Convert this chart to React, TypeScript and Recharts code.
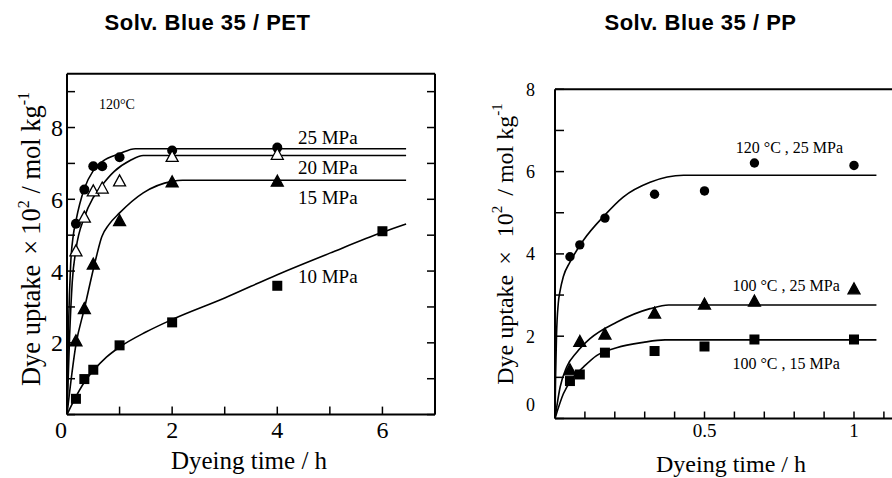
import React from 'react';
import { ComposedChart, Line, Scatter, XAxis, YAxis, ReferenceDot } from 'recharts';

const SERIF = '"Liberation Serif", "Times New Roman", serif';
const SANS = '"Liberation Sans", Arial, sans-serif';

// ---------- PET (left) ----------
const PET_TIMES = [0.17, 0.33, 0.5, 0.67, 1, 2, 4];
const PET_25 = [5.32, 6.27, 6.92, 6.92, 7.17, 7.36, 7.44];
const PET_20 = [4.55, 5.49, 6.22, 6.3, 6.5, 7.18, 7.24];
const PET_15_TIMES = [0.17, 0.33, 0.5, 1, 2, 4];
const PET_15 = [2.04, 2.94, 4.18, 5.39, 6.47, 6.49];
const PET_10_TIMES = [0.17, 0.33, 0.5, 1, 2, 4, 6];
const PET_10 = [0.44, 0.99, 1.25, 1.93, 2.57, 3.59, 5.11];

// fitted curves
const FIT25_T = [0, 0.03, 0.07, 0.12, 0.17, 0.33, 0.5, 0.67, 1, 1.3, 6.45];
const FIT25_V = [0, 2.5, 4.2, 5.0, 5.4, 6.3, 6.8, 7.05, 7.27, 7.41, 7.41];
const FIT20_T = [0, 0.05, 0.1, 0.17, 0.33, 0.5, 0.67, 0.9, 1.2, 1.45, 6.45];
const FIT20_V = [0, 2.2, 3.7, 4.6, 5.5, 6.05, 6.4, 6.78, 7.08, 7.22, 7.22];
const FIT15_T = [0, 0.17, 0.33, 0.55, 0.66, 0.8, 1.0, 1.45, 2.0, 2.2, 6.45];
const FIT15_V = [0, 1.95, 2.95, 4.35, 4.95, 5.3, 5.62, 6.18, 6.5, 6.53, 6.53];
const FIT10_T = [0, 0.17, 0.33, 0.5, 0.75, 1, 1.5, 2, 3, 4, 5, 6, 6.45];
const FIT10_V = [0, 0.5, 0.9, 1.22, 1.6, 1.88, 2.3, 2.65, 3.25, 3.9, 4.5, 5.08, 5.31];

const PET_X_TICKS = [0, 1, 2, 3, 4, 5, 6, 7];
const PET_Y_TICKS = [0, 1, 2, 3, 4, 5, 6, 7, 8, 9];

// ---------- PP (right) ----------
const PP_TIMES = [0.05, 0.083, 0.167, 0.333, 0.5, 0.667, 1];
const PP_120_25 = [3.93, 4.22, 4.87, 5.45, 5.53, 6.21, 6.15];
const PP_100_25 = [1.17, 1.86, 2.04, 2.55, 2.77, 2.84, 3.14];
const PP_100_15 = [0.91, 1.07, 1.6, 1.64, 1.75, 1.92, 1.92];

const FITA_T = [0, 0.002, 0.005, 0.011, 0.017, 0.028, 0.05, 0.095, 0.165, 0.228, 0.318, 0.43, 1.075];
const FITA_V = [0, 1.0, 2.0, 2.8, 3.1, 3.45, 3.8, 4.33, 4.93, 5.38, 5.74, 5.91, 5.91];
const FITB_T = [0, 0.017, 0.039, 0.073, 0.117, 0.206, 0.318, 0.38, 1.075];
const FITB_V = [0, 0.76, 1.25, 1.61, 1.94, 2.34, 2.67, 2.76, 2.76];
const FITC_T = [0, 0.028, 0.061, 0.095, 0.139, 0.206, 0.295, 0.368, 1.075];
const FITC_V = [0, 0.6, 1.0, 1.25, 1.53, 1.72, 1.85, 1.91, 1.91];

const PP_X_TICKS = [0, 0.1, 0.2, 0.3, 0.4, 0.5, 0.6, 0.7, 0.8, 0.9, 1, 1.1, 1.2];
const PP_Y_TICKS = [0, 1, 2, 3, 4, 5, 6, 7, 8];

const zip = (xs: number[], ys: number[]) => xs.map((x, i) => ({ x, y: ys[i] }));

// ---------- markers ----------
const FilledCircle = (p: any) => <circle cx={p.cx} cy={p.cy} r={5} fill="#000" />;
const FilledSquare = (p: any) => <rect x={p.cx - 5} y={p.cy - 5} width={10} height={10} fill="#000" />;
const SmallCircle = (p: any) => <circle cx={p.cx} cy={p.cy} r={4.7} fill="#000" />;
const makeTri = (filled: boolean) => (p: any) => (
  <polygon
    points={`${p.cx},${p.cy - 6.5} ${p.cx - 6},${p.cy + 4.5} ${p.cx + 6},${p.cy + 4.5}`}
    fill={filled ? '#000' : '#fff'}
    stroke="#000"
    strokeWidth={1.3}
  />
);

const note = (text: string, size: number) => (props: any) => {
  const vb = props.viewBox || {};
  const cx = vb.x + (vb.width || 0) / 2;
  const cy = vb.y + (vb.height || 0) / 2;
  return (
    <text x={cx} y={cy} dy="0.35em" textAnchor="middle" fontFamily={SERIF} fontSize={size} fill="#000">
      {text}
    </text>
  );
};

const axisLine = { stroke: '#000', strokeWidth: 2 };
const TICK_W = 1.5;
const near = (a: number, b: number) => Math.abs(a - b) < 1e-9;

// tick renderers: with tickSize 0 / tickMargin 0, (x, y) is the point on the axis line
const makeBottomTick = (len: number, labelFor: (v: number) => string | null, size: number, dyLabel: number, shift0 = 0) =>
  (p: any) => {
    const v = p.payload.value;
    const lab = labelFor(v);
    return (
      <g>
        <line x1={p.x} y1={p.y} x2={p.x} y2={p.y - len} stroke="#000" strokeWidth={TICK_W} />
        {lab !== null && (
          <text x={p.x + (v === 0 ? shift0 : 0)} y={p.y + dyLabel} textAnchor="middle" fontFamily={SERIF} fontSize={size} fill="#000">
            {lab}
          </text>
        )}
      </g>
    );
  };
const makeLeftTick = (len: number, labelFor: (v: number) => string | null, size: number, gap: number, dy: number, zeroLift = 0) =>
  (p: any) => {
    const v = p.payload.value;
    const lab = labelFor(v);
    return (
      <g>
        <line x1={p.x} y1={p.y} x2={p.x + len} y2={p.y} stroke="#000" strokeWidth={TICK_W} />
        {lab !== null && (
          <text x={p.x - gap} y={p.y + dy - (v === 0 ? zeroLift : 0)} textAnchor="end" fontFamily={SERIF} fontSize={size} fill="#000">
            {lab}
          </text>
        )}
      </g>
    );
  };
const makeTopTick = (len: number) => (p: any) => (
  <line x1={p.x} y1={p.y} x2={p.x} y2={p.y + len} stroke="#000" strokeWidth={TICK_W} />
);
const makeRightTick = (len: number) => (p: any) => (
  <line x1={p.x} y1={p.y} x2={p.x - len} y2={p.y} stroke="#000" strokeWidth={TICK_W} />
);

const PetXTick = makeBottomTick(8, (v) => (v % 2 === 0 ? String(v) : null), 24, 23, -6);
const PetYTick = makeLeftTick(8, (v) => (v % 2 === 0 && v !== 0 ? String(v) : null), 24, 4, 8.5);
const PpXTick = makeBottomTick(7, (v) => (near(v, 0.5) ? '0.5' : near(v, 1) ? '1' : null), 19, 18);
const PpYTick = makeLeftTick(9, (v) => (v % 2 === 0 ? String(v) : null), 18, 20, 6.5, 14);

const axisCommon = {
  type: 'number' as const,
  interval: 0 as const,
  tickSize: 0,
  tickMargin: 0,
  tickLine: false,
  axisLine,
  allowDataOverflow: true,
};

const PetChart = () => (
  <ComposedChart width={446} height={478} margin={{ top: 72.7, right: 10, bottom: 33.4, left: 0 }}>
    <XAxis xAxisId={0} dataKey="x" domain={[0, 7]} ticks={PET_X_TICKS} height={30} tick={PetXTick} {...axisCommon} />
    <XAxis xAxisId="top" orientation="top" domain={[0, 7]} ticks={PET_X_TICKS} height={1} tick={makeTopTick(8)} {...axisCommon} />
    <YAxis yAxisId={0} dataKey="y" domain={[0, 9.5]} ticks={PET_Y_TICKS} width={67} tick={PetYTick} {...axisCommon} />
    <YAxis yAxisId="right" orientation="right" domain={[0, 9.5]} ticks={PET_Y_TICKS} width={1} tick={makeRightTick(8)} {...axisCommon} />
    <Line data={zip(FIT25_T, FIT25_V)} dataKey="y" type="monotone" stroke="#000" strokeWidth={1.6} dot={false} isAnimationActive={false} />
    <Line data={zip(FIT20_T, FIT20_V)} dataKey="y" type="monotone" stroke="#000" strokeWidth={1.6} dot={false} isAnimationActive={false} />
    <Line data={zip(FIT15_T, FIT15_V)} dataKey="y" type="monotone" stroke="#000" strokeWidth={1.6} dot={false} isAnimationActive={false} />
    <Line data={zip(FIT10_T, FIT10_V)} dataKey="y" type="monotone" stroke="#000" strokeWidth={1.6} dot={false} isAnimationActive={false} />
    <Scatter data={zip(PET_TIMES, PET_25)} shape={FilledCircle} isAnimationActive={false} />
    <Scatter data={zip(PET_TIMES, PET_20)} shape={makeTri(false)} isAnimationActive={false} />
    <Scatter data={zip(PET_15_TIMES, PET_15)} shape={makeTri(true)} isAnimationActive={false} />
    <Scatter data={zip(PET_10_TIMES, PET_10)} shape={FilledSquare} isAnimationActive={false} />
    <ReferenceDot x={0.95} y={8.65} r={1} fill="none" stroke="none" label={note('120°C', 14)} />
    <ReferenceDot x={4.96} y={7.73} r={1} fill="none" stroke="none" label={note('25 MPa', 19)} />
    <ReferenceDot x={4.96} y={6.9} r={1} fill="none" stroke="none" label={note('20 MPa', 19)} />
    <ReferenceDot x={4.96} y={6.06} r={1} fill="none" stroke="none" label={note('15 MPa', 19)} />
    <ReferenceDot x={4.96} y={3.86} r={1} fill="none" stroke="none" label={note('10 MPa', 19)} />
  </ComposedChart>
);

const PpChart = () => (
  <ComposedChart width={480} height={478} margin={{ top: 88.3, right: 12.2, bottom: 29.5, left: 0 }}>
    <XAxis xAxisId={0} dataKey="x" domain={[0, 1.2]} ticks={PP_X_TICKS} height={30} tick={PpXTick} {...axisCommon} />
    <XAxis xAxisId="top" orientation="top" domain={[0, 1.2]} ticks={PP_X_TICKS} height={1} tick={makeTopTick(8)} {...axisCommon} />
    <YAxis yAxisId={0} dataKey="y" domain={[0, 8]} ticks={PP_Y_TICKS} width={109} tick={PpYTick} {...axisCommon} />
    <Line data={zip(FITA_T, FITA_V)} dataKey="y" type="monotone" stroke="#000" strokeWidth={1.6} dot={false} isAnimationActive={false} />
    <Line data={zip(FITB_T, FITB_V)} dataKey="y" type="monotone" stroke="#000" strokeWidth={1.6} dot={false} isAnimationActive={false} />
    <Line data={zip(FITC_T, FITC_V)} dataKey="y" type="monotone" stroke="#000" strokeWidth={1.6} dot={false} isAnimationActive={false} />
    <Scatter data={zip(PP_TIMES, PP_120_25)} shape={SmallCircle} isAnimationActive={false} />
    <Scatter data={zip(PP_TIMES, PP_100_25)} shape={makeTri(true)} isAnimationActive={false} />
    <Scatter data={zip(PP_TIMES, PP_100_15)} shape={FilledSquare} isAnimationActive={false} />
    <ReferenceDot x={0.784} y={6.6} r={1} fill="none" stroke="none" label={note('120 °C , 25 MPa', 16)} />
    <ReferenceDot x={0.773} y={3.24} r={1} fill="none" stroke="none" label={note('100 °C , 25 MPa', 16)} />
    <ReferenceDot x={0.773} y={1.35} r={1} fill="none" stroke="none" label={note('100 °C , 15 MPa', 16)} />
  </ComposedChart>
);

export default function App() {
  return (
    <div
      style={{
        position: 'absolute',
        left: 0,
        top: 0,
        width: 892,
        height: 478,
        overflow: 'hidden',
        background: '#fff',
      }}
    >
      <div style={{ position: 'absolute', left: 0, top: 0 }}>
        <PetChart />
      </div>
      <div style={{ position: 'absolute', left: 446, top: 0 }}>
        <PpChart />
      </div>
      <svg
        width={892}
        height={478}
        style={{ position: 'absolute', left: 0, top: 0, pointerEvents: 'none' }}
      >
        <text x={207.5} y={30} textAnchor="middle" fontFamily={SANS} fontWeight="bold" fontSize={22} letterSpacing={0.5} fill="#000">
          Solv. Blue 35 / PET
        </text>
        <text x={700.5} y={30} textAnchor="middle" fontFamily={SANS} fontWeight="bold" fontSize={22} letterSpacing={0.5} fill="#000">
          Solv. Blue 35 / PP
        </text>
        <text x={249} y={469} textAnchor="middle" fontFamily={SERIF} fontSize={25} fill="#000">
          Dyeing time / h
        </text>
        <text x={731} y={472} textAnchor="middle" fontFamily={SERIF} fontSize={24} fill="#000">
          Dyeing time / h
        </text>
        <text transform="translate(40,239) rotate(-90)" textAnchor="middle" fontFamily={SERIF} fontSize={26.5} fill="#000">
          <tspan>Dye uptake</tspan>
          <tspan dx={10}>×</tspan>
          <tspan dx={5}>10</tspan>
          <tspan dy={-11} fontSize={16}>2</tspan>
          <tspan dy={11}> / mol kg</tspan>
          <tspan dy={-11} fontSize={16}>-1</tspan>
        </text>
        <text transform="translate(513,244) rotate(-90)" textAnchor="middle" fontFamily={SERIF} fontSize={24} fill="#000">
          <tspan>Dye uptake</tspan>
          <tspan dx={10}>×</tspan>
          <tspan dx={14}>10</tspan>
          <tspan dy={-11} fontSize={15}>2</tspan>
          <tspan dy={11} dx={10}>/ mol kg</tspan>
          <tspan dy={-11} fontSize={15}>-1</tspan>
        </text>
      </svg>
    </div>
  );
}
